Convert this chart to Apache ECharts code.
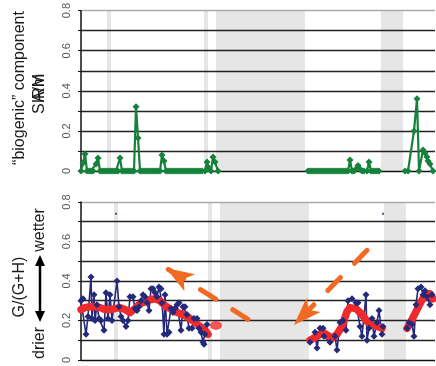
<!DOCTYPE html>
<html>
<head>
<meta charset="utf-8">
<script src="https://cdn.jsdelivr.net/npm/echarts@6.0.0/dist/echarts.min.js"></script>
<style>
  html, body { margin: 0; padding: 0; background: #fff; }
  #chart { width: 436px; height: 366px; }
</style>
</head>
<body>
<div id="chart"></div>
<script>
// Position along the record (arbitrary sample units, no axis labels drawn)
const X_MAX = 354;

// Y tick labels shared by both panels
const yTickLabels = ['0', '0.2', '0.4', '0.6', '0.8'];

// Hiatus / gap intervals shaded grey
const bandsTop = [[26, 30], [123, 127], [135, 224], [300, 322]];
const bandsBottom = [[33, 37], [127, 131], [139, 228], [303, 325]];

// Upper panel: "biogenic" component SIRM (A/m)
const sirmSegA = [
  [0, 0], [2, 0.04], [4, 0.085], [6, 0], [8, 0], [10, 0], [12, 0], [15, 0.035], [17, 0.065], [19, 0],
  [21, 0], [23, 0], [25, 0], [27, 0], [29, 0], [31, 0], [33, 0], [35, 0], [37, 0], [39, 0.065],
  [41, 0], [43, 0], [45, 0], [47, 0], [49, 0], [51, 0], [53, 0], [55, 0.32], [57, 0.165], [59, 0],
  [61, 0], [63, 0], [65, 0], [67, 0], [69, 0], [71, 0], [73, 0], [75, 0], [77, 0], [79, 0],
  [81, 0.08], [83, 0.05], [85, 0], [87, 0], [89, 0], [91, 0], [93, 0], [95, 0], [97, 0], [99, 0],
  [101, 0], [103, 0], [105, 0], [107, 0], [109, 0], [111, 0], [113, 0], [115, 0], [117, 0], [119, 0],
  [121, 0], [124, 0], [126, 0.045], [128, 0.015], [130, 0], [132, 0.07], [134, 0.045], [137, 0]
];
const sirmSegB = [
  [227, 0], [229, 0], [231, 0], [233, 0], [235, 0], [237, 0], [239, 0], [241, 0], [243, 0], [245, 0],
  [247, 0], [249, 0], [251, 0], [253, 0], [255, 0], [257, 0], [259, 0], [261, 0], [263, 0], [265, 0],
  [267, 0], [269, 0.055], [271, 0], [273, 0], [275, 0.01], [277, 0.028], [279, 0.01], [281, 0], [283, 0],
  [286, 0], [288, 0.045], [290, 0], [292, 0], [294, 0], [296, 0], [298, 0]
];
const sirmSegC = [
  [324, 0], [327, 0], [333, 0.2], [336, 0.36], [338, 0], [342, 0.105], [344, 0.09], [346, 0.07],
  [347, 0.05], [349, 0.035], [352, 0]
];

// Lower panel: G/(G+H) ratio, individual samples
const ratioSegA = [
  [0, 0.30], [2, 0.31], [5, 0.13], [7, 0.22], [10, 0.42], [11, 0.21], [13, 0.33], [14, 0.20], [16, 0.28], [18, 0.21],
  [20, 0.20], [23, 0.15], [25, 0.34], [27, 0.21], [29, 0.33], [31, 0.20], [36, 0.40], [38, 0.27], [40, 0.22], [42, 0.20],
  [45, 0.17], [47, 0.20], [49, 0.32], [52, 0.32], [54, 0.26], [56, 0.25], [58, 0.27], [60, 0.30], [62, 0.33], [64, 0.32],
  [66, 0.29], [68, 0.25], [70, 0.36], [72, 0.36], [74, 0.34], [76, 0.32], [78, 0.37], [80, 0.36], [81, 0.29], [83, 0.13],
  [84, 0.33], [86, 0.13], [88, 0.14], [90, 0.26], [92, 0.24], [94, 0.26], [96, 0.28], [98, 0.29], [100, 0.15], [102, 0.27],
  [104, 0.27], [106, 0.23], [108, 0.16], [111, 0.16], [113, 0.21], [116, 0.21], [118, 0.16], [120, 0.14], [122, 0.09], [123, 0.08],
  [124, 0.13], [126, 0.18]
];
const ratioSegB = [
  [229, 0.09], [234, 0.14], [236, 0.06], [239, 0.16], [242, 0.16], [243, 0.12], [249, 0.09], [254, 0.12], [256, 0.05], [259, 0.19],
  [262, 0.20], [265, 0.15], [267, 0.30], [271, 0.31], [275, 0.29], [277, 0.29], [279, 0.17], [281, 0.12], [285, 0.33], [286, 0.10],
  [288, 0.16], [291, 0.21], [293, 0.12], [296, 0.19], [298, 0.25], [301, 0.13], [302, 0.17]
];
const ratioSegC = [
  [326, 0.16], [328, 0.19], [331, 0.18], [333, 0.12], [335, 0.28], [337, 0.36], [340, 0.37], [342, 0.33], [344, 0.35], [346, 0.32],
  [349, 0.28], [351, 0.33]
];
// Isolated samples near the top of the ratio panel
const ratioStray = [[35, 0.74], [302, 0.74]];

// Running mean of G/(G+H)
const meanSegA = [
  [0, 0.255], [4, 0.265], [9, 0.27], [14, 0.27], [19, 0.265], [24, 0.255], [29, 0.255], [34, 0.26], [39, 0.265], [44, 0.255],
  [49, 0.24], [54, 0.26], [59, 0.285], [64, 0.295], [69, 0.305], [74, 0.31], [79, 0.30], [84, 0.275], [89, 0.26], [94, 0.245],
  [99, 0.235], [104, 0.225], [109, 0.21], [114, 0.19], [119, 0.17], [124, 0.15], [127, 0.13]
];
const meanSingle = [[135, 0.175]];
const meanSegB = [
  [229, 0.10], [236, 0.12], [242, 0.14], [251, 0.11], [256, 0.13], [261, 0.17], [266, 0.245], [269, 0.265], [275, 0.26], [281, 0.23],
  [286, 0.195], [291, 0.18], [296, 0.17], [301, 0.16]
];
const meanSegC = [[326, 0.16], [331, 0.205], [335, 0.245], [339, 0.285], [344, 0.33], [349, 0.335], [352, 0.31]];

// Trend arrows: tail -> arrow tip
const trendArrows = [
  { from: [167, 0.206], to: [85, 0.466] },
  { from: [286, 0.555], to: [213, 0.177] }
];

const FONT = '"Liberation Sans", Arial, sans-serif';
const GREEN = '#15813b';
const NAVY = '#24297a';
const RED = '#ee2a2c';
const ORANGE = '#f26a21';
const BAND = '#e6e6e6';
const gridLineColors = ['#111', '#222', '#222', '#222', '#222', '#222', '#222', '#222', '#aaaaaa'];

function yAxisFor(gridIndex) {
  return {
    type: 'value', gridIndex, min: 0, max: 0.8, interval: 0.1, z: 1.5,
    axisLine: { show: true, lineStyle: { color: '#111', width: 1.5 } },
    axisTick: { show: true, length: 3, lineStyle: { color: '#111' } },
    axisLabel: {
      rotate: 90, margin: 9, fontSize: 11, color: '#555', fontFamily: FONT,
      formatter: v => { const k = Math.round(v * 10); return k % 2 === 0 ? yTickLabels[k / 2] : ''; }
    },
    splitLine: { show: true, lineStyle: { color: gridLineColors, width: 1.4 } }
  };
}

function bandArea(bands) {
  return {
    silent: true, z: 1,
    itemStyle: { color: BAND },
    data: bands.map(b => [{ xAxis: b[0] }, { xAxis: b[1] }])
  };
}

const series = [];

[sirmSegA, sirmSegB, sirmSegC].forEach((seg, i) => {
  series.push({
    type: 'line', xAxisIndex: 0, yAxisIndex: 0, data: seg,
    symbol: 'diamond', symbolSize: 7, showAllSymbol: true,
    lineStyle: { color: GREEN, width: 2.2 }, itemStyle: { color: GREEN },
    markArea: i === 0 ? bandArea(bandsTop) : undefined
  });
});

[ratioSegA, ratioSegB, ratioSegC].forEach((seg, i) => {
  series.push({
    type: 'line', xAxisIndex: 1, yAxisIndex: 1, data: seg,
    symbol: 'diamond', symbolSize: 7, showAllSymbol: true,
    lineStyle: { color: NAVY, width: 1.6 }, itemStyle: { color: NAVY },
    markArea: i === 0 ? bandArea(bandsBottom) : undefined
  });
});

[meanSegA, meanSegB, meanSegC].forEach(seg => {
  series.push({
    type: 'line', xAxisIndex: 1, yAxisIndex: 1, data: seg, z: 3,
    symbol: 'none', lineStyle: { color: RED, width: 7.5, cap: 'round', join: 'round' }
  });
});

series.push({
  type: 'scatter', xAxisIndex: 1, yAxisIndex: 1, data: meanSingle, z: 3,
  symbol: 'circle', symbolSize: [12, 9], itemStyle: { color: RED }
});

series.push({
  type: 'scatter', xAxisIndex: 1, yAxisIndex: 1, data: ratioStray,
  symbol: 'rect', symbolSize: 2, itemStyle: { color: NAVY },
  markLine: {
    silent: true, symbol: ['none', 'arrow'],
    label: { show: false },
    lineStyle: { color: ORANGE, width: 5, type: [18, 20], cap: 'round', opacity: 1 },
    emphasis: { disabled: true },
    data: trendArrows.map(a => [
      { coord: a.from, symbol: 'none' },
      { coord: a.to, symbol: 'arrow', symbolSize: [15, 28] }
    ])
  }
});

const chart = echarts.init(document.getElementById('chart'), null, { renderer: 'canvas' });

// Rotated axis titles
const titleStyle = (text) => ({ text, fill: '#1a1a1a', font: '16px ' + FONT, textAlign: 'center', textVerticalAlign: 'middle' });
const rot = Math.PI / 2;

chart.setOption({
  animation: false,
  backgroundColor: '#fff',
  grid: [
    { left: 81, top: 10, width: 354, height: 161 },
    { left: 81, top: 202, width: 354, height: 163 }
  ],
  xAxis: [
    { type: 'value', gridIndex: 0, min: 0, max: X_MAX, show: false },
    { type: 'value', gridIndex: 1, min: 0, max: X_MAX, show: false }
  ],
  yAxis: [yAxisFor(0), yAxisFor(1)],
  graphic: [
    { type: 'text', x: 20, y: 88, rotation: rot, style: titleStyle('\u201Cbiogenic\u201D component') },
    { type: 'text', x: 40, y: 94, rotation: rot, style: titleStyle('SIRM') },
    { type: 'text', x: 40, y: 88, rotation: rot, style: titleStyle('A/m') },
    { type: 'text', x: 20, y: 287, rotation: rot, style: titleStyle('G/(G+H)') },
    { type: 'text', x: 40, y: 230, rotation: rot, style: titleStyle('wetter') },
    { type: 'text', x: 40, y: 343, rotation: rot, style: titleStyle('drier') },
    { type: 'line', shape: { x1: 40, y1: 262, x2: 40, y2: 315 }, style: { stroke: '#000', lineWidth: 2.5 } },
    { type: 'polygon', shape: { points: [[40, 255], [35, 266], [45, 266]] }, style: { fill: '#000' } },
    { type: 'polygon', shape: { points: [[40, 322], [35, 311], [45, 311]] }, style: { fill: '#000' } }
  ],
  series
});
</script>
</body>
</html>
